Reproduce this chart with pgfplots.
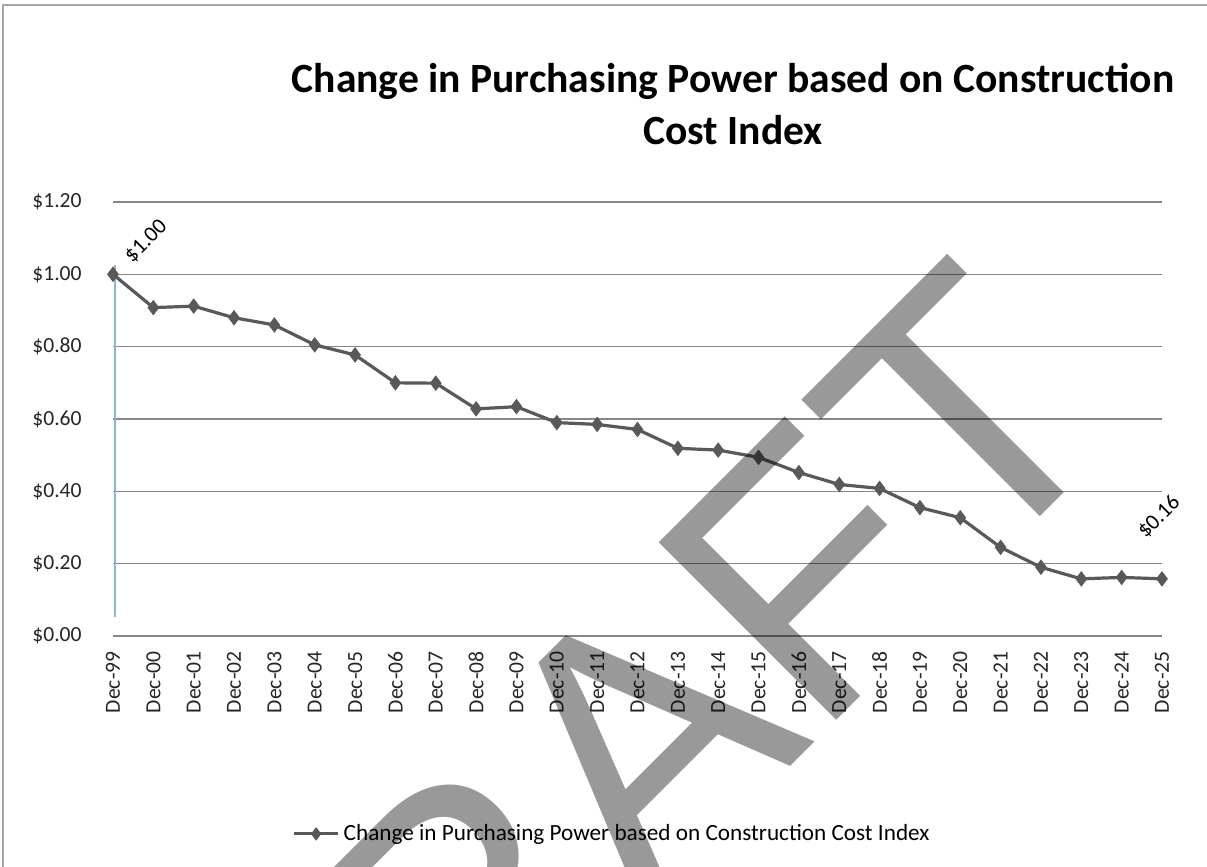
\documentclass[border=0pt]{standalone}
\usepackage{fontspec}
\setmainfont{Carlito}
\newfontfamily\wmfont{Liberation Sans}
\usepackage{pgfplots}
\pgfplotsset{compat=1.18}
\definecolor{gridc}{HTML}{878787}
\definecolor{linec}{HTML}{595959}
\definecolor{bluec}{HTML}{8DB3E2}
\definecolor{framec}{HTML}{A6A6A6}

\pgfplotstableread{
x y
0 1.000
1 0.908
2 0.912
3 0.880
4 0.860
5 0.805
6 0.777
7 0.700
8 0.699
9 0.628
10 0.634
11 0.590
12 0.585
13 0.571
14 0.519
15 0.514
16 0.494
17 0.452
18 0.419
19 0.408
20 0.355
21 0.327
22 0.245
23 0.190
24 0.158
25 0.162
26 0.158
}\ppdata

\begin{document}
\begin{tikzpicture}
\useasboundingbox (0,0) rectangle (603.5pt,433.5pt);
\clip (0,0) rectangle (603.5pt,433.5pt);
\fill[white] (0,0) rectangle (603.5pt,433.5pt);
\draw[framec, line width=1pt] (1.5pt,0) -- (1.5pt,431pt) -- (603.5pt,431pt);
\node[anchor=base, inner sep=0pt, font=\fontsize{20.8}{26}\selectfont\bfseries] at (366.5pt,387pt) {Change in Purchasing Power based on Construction};
\node[anchor=base, inner sep=0pt, font=\fontsize{20.8}{26}\selectfont\bfseries] at (366.5pt,361pt) {Cost Index};
\begin{axis}[
  at={(56.5pt,115.5pt)}, anchor=south west,
  scale only axis, width=524.5pt, height=217pt,
  xmin=0, xmax=26, ymin=0, ymax=1.2,
  axis line style={draw=none},
  major tick length=0pt,
  ytick={0,0.2,0.4,0.6,0.8,1.0,1.2},
  yticklabels={\$0.00,\$0.20,\$0.40,\$0.60,\$0.80,\$1.00,\$1.20},
  xtick={0,1,...,26},
  xticklabels={Dec-99,Dec-00,Dec-01,Dec-02,Dec-03,Dec-04,Dec-05,Dec-06,Dec-07,Dec-08,Dec-09,Dec-10,Dec-11,Dec-12,Dec-13,Dec-14,Dec-15,Dec-16,Dec-17,Dec-18,Dec-19,Dec-20,Dec-21,Dec-22,Dec-23,Dec-24,Dec-25},
  ymajorgrids, grid style={gridc, line width=0.75pt},
  ticklabel style={font=\fontsize{10.8}{13}\selectfont, text=black!85},
  yticklabel style={anchor=east, inner sep=0pt},
  yticklabel shift=15.5pt,
  xticklabel style={rotate=90, anchor=east, inner sep=0pt},
  xticklabel shift=7.5pt,
  clip=false,
  legend style={at={(0.4767,-0.456)}, anchor=center, draw=none, fill=none,
    font=\fontsize{11.6}{13}\selectfont, inner sep=0pt},
  legend image code/.code={\draw[mark repeat=2,mark phase=2,#1,mark size=3pt] plot coordinates {(0pt,0pt) (11pt,0pt) (22pt,0pt)};},
]
\addplot[bluec, line width=0.8pt, forget plot] coordinates {(0.05,0.053) (0.05,1.026)};
\addplot[color=linec, line width=1.6pt, mark=diamond*, mark size=3.5pt,
  mark options={solid, fill=linec, line width=0.5pt}] table[x=x,y=y] {\ppdata};
\addlegendentry{Change in Purchasing Power based on Construction Cost Index}
\node[xshift=16.5pt, yshift=16.5pt, rotate=45, inner sep=0pt, font=\fontsize{11}{13}\selectfont] at (axis cs:0,1.0) {\$1.00};
\node[xshift=-1.5pt, yshift=31pt, rotate=45, inner sep=0pt, font=\fontsize{11}{13}\selectfont] at (axis cs:26,0.158) {\$0.16};
\end{axis}
\node[anchor=base, rotate=45, inner sep=0pt, text=black, text opacity=0.4,
  font=\wmfont\fontsize{182.5}{200}\selectfont] at (350.35pt,5.35pt) {DRAFT};
\end{tikzpicture}
\end{document}
